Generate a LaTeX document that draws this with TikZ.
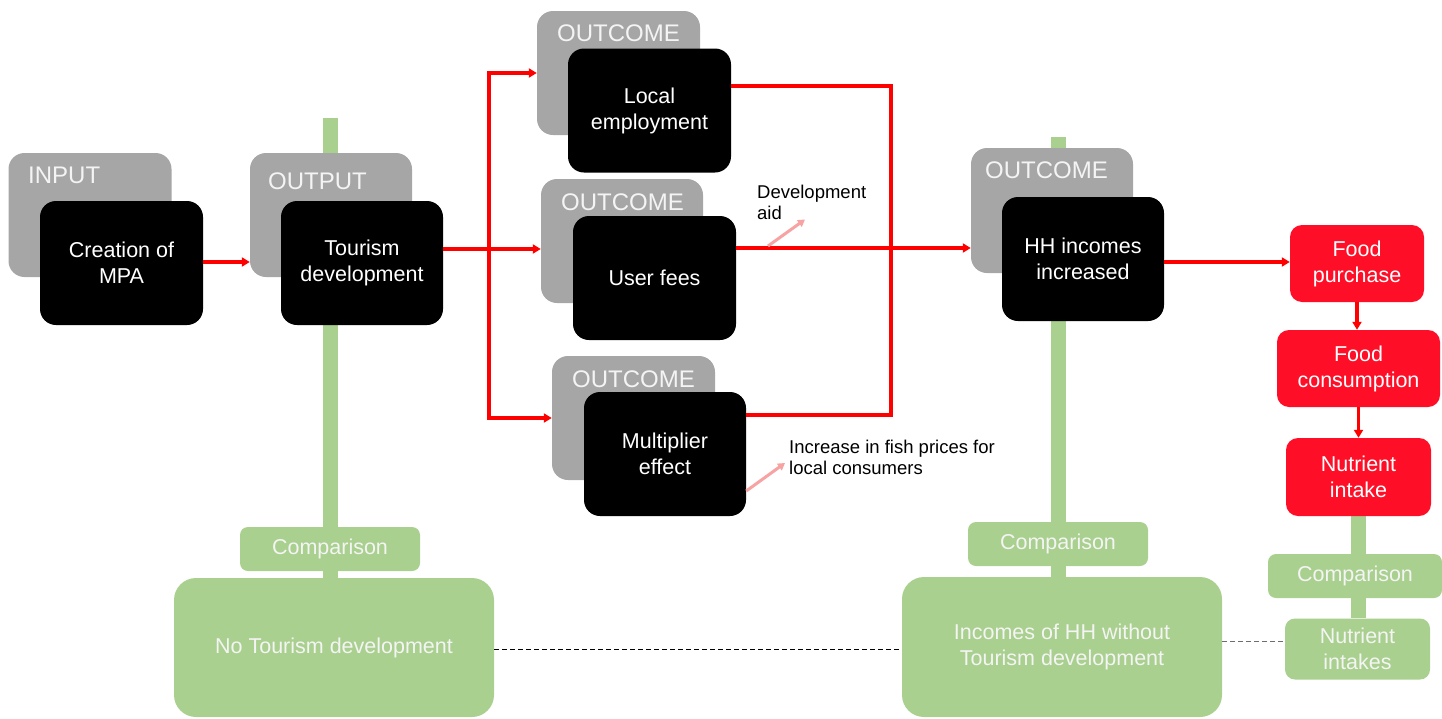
\documentclass[tikz,border=0pt]{standalone}
\usepackage{fontspec}
\setmainfont{Liberation Sans}
\usetikzlibrary{arrows.meta,backgrounds}

\definecolor{boxgray}{HTML}{A6A6A6}
\definecolor{leafgreen}{HTML}{A9D08E}
\definecolor{boxred}{HTML}{FF0F27}
\definecolor{softred}{HTML}{F7A3A3}
\definecolor{paleword}{HTML}{F4F4F4}
\definecolor{dashgray}{HTML}{6E6E6E}

\tikzset{
  graybox/.style={fill=boxgray, rounded corners=16pt, minimum width=163pt, minimum height=124pt, inner sep=0pt},
  graylabel/.style={text=paleword, anchor=west, inner sep=0pt, font=\fontsize{24}{28}\selectfont},
  blackbox/.style={fill=black, text=white, rounded corners=16pt, minimum width=163pt, minimum height=124pt, inner sep=0pt, align=center, font=\fontsize{21.5}{26}\selectfont},
  redbox/.style={fill=boxred, text=white, rounded corners=12pt, minimum height=77pt, inner sep=0pt, align=center, font=\fontsize{21.5}{26}\selectfont},
  greenbox/.style={fill=leafgreen, text=paleword, rounded corners=22pt, minimum width=320pt, minimum height=139pt, inner sep=0pt, align=center, font=\fontsize{21.5}{26}\selectfont},
  cmpbox/.style={fill=leafgreen, text=paleword, rounded corners=8pt, minimum width=180pt, minimum height=44pt, inner sep=0pt, font=\fontsize{21.5}{26}\selectfont},
  redline/.style={draw=red, line width=3.5pt},
  greenbar/.style={draw=leafgreen, line width=15pt},
  pinkarrow/.style={draw=softred, line width=3pt, -{Triangle[length=7pt,width=8pt]}},
  note/.style={anchor=west, inner sep=0pt, align=left, font=\fontsize{18.5}{21}\selectfont},
  linkdash/.style={line width=1pt, dash pattern=on 5pt off 3pt}
}

\begin{document}
\begin{tikzpicture}[x=1pt,y=-1pt,>={Triangle[length=8pt,width=9pt]}]

  \useasboundingbox (0,0) rectangle (1442,718);

  % Input and output
  \node[graybox] (ing) at (90,215) {};
  \node[graylabel] at (28,175) {INPUT};
  \node[blackbox] (mpa) at (121.5,263) {Creation of\\MPA};

  \node[graybox, minimum width=162pt] (outg) at (331,215) {};
  \node[graylabel] at (268,181) {OUTPUT};
  \node[blackbox, minimum width=162pt] (tour) at (362,263) {Tourism\\development};

  % Three outcomes
  \node[graybox] (oc1g) at (618.5,73) {};
  \node[graylabel] at (557,33) {OUTCOME};
  \node[blackbox] (emp) at (649.5,110.5) {Local\\employment};

  \node[graybox, minimum width=162pt] (oc2g) at (622,241) {};
  \node[graylabel] at (561,202) {OUTCOME};
  \node[blackbox] (fees) at (654.5,278) {User fees};

  \node[graybox] (oc3g) at (633.5,418) {};
  \node[graylabel] at (572,379) {OUTCOME};
  \node[blackbox, minimum width=162pt] (mult) at (665,454) {Multiplier\\effect};

  % Household outcome
  \node[graybox, minimum width=162pt, minimum height=125pt] (oc4g) at (1052,210.5) {};
  \node[graylabel] at (985,170) {OUTCOME};
  \node[blackbox, minimum width=162pt] (hh) at (1083,259) {HH incomes\\increased};

  % Nutrition chain
  \node[redbox, minimum width=134pt] (purch) at (1357,263.5) {Food\\purchase};
  \node[redbox, minimum width=163pt] (cons) at (1358.5,368.5) {Food\\consumption};
  \node[redbox, minimum width=145pt, minimum height=78pt] (nutr) at (1358.5,477) {Nutrient\\intake};

  % Counterfactuals
  \node[cmpbox] (cmp1) at (330,549) {Comparison};
  \node[greenbox] (notour) at (334,647.5) {No Tourism development};
  \node[cmpbox] (cmp2) at (1058,544) {Comparison};
  \node[greenbox, minimum height=140pt] (inchh) at (1062,647) {Incomes of HH without\\Tourism development};
  \node[cmpbox, minimum width=174pt] (cmp3) at (1355,576) {Comparison};
  \node[cmpbox, minimum width=145pt, minimum height=61pt, rounded corners=10pt, align=center] (nutrs) at (1357.5,649) {Nutrient\\intakes};

  % Notes
  \node[note] (devaid) at (757,202) {Development\\aid};
  \node[note] (fish) at (789,457) {Increase in fish prices for\\local consumers};

  % Green comparison bars behind
  \coordinate (bar1) at (330,118);
  \coordinate (bar2) at (1058,137);
  \begin{scope}[on background layer]
    \draw[greenbar] (bar1) -- (cmp1.north);
    \draw[greenbar] (cmp1.south) -- (cmp1.south |- notour.north);
    \draw[greenbar] (bar2) -- (cmp2.north);
    \draw[greenbar] (cmp2.south) -- (cmp2.south |- inchh.north);
    \draw[greenbar] (nutr.south) -- (nutr.south |- cmp3.north);
    \draw[greenbar] (nutr.south |- cmp3.south) -- (nutr.south |- nutrs.north);
  \end{scope}

  % Red causal links
  \draw[redline,->] (mpa.east |- 0,262) -- (outg.west |- 0,262);
  \coordinate (split) at (489,249);
  \draw[redline,->] (tour.east |- split) -- (oc2g.west |- split);
  \draw[redline,->] (split) |- (oc1g.west);
  \draw[redline,->] (split) |- (oc3g.west);

  \coordinate (xcol) at (891,250);
  \draw[redline] (emp.east |- 0,86) -| (xcol) |- (mult.east |- 0,415);
  \draw[redline,->] (fees.east |- 0,248) -- (oc4g.west |- 0,248);

  \draw[redline,->] (hh.east |- 0,262) -- (purch.west |- 0,262);
  \draw[redline,->] (purch.south) -- (purch.south |- cons.north);
  \draw[redline,->] (nutr.north |- cons.south) -- (nutr.north);

  % Side effects
  \draw[pinkarrow] (768,246) -- ([xshift=48pt]devaid.south west);
  \draw[pinkarrow] ([yshift=-37pt]mult.east) -- ([xshift=-4pt,yshift=-6pt]fish.west);

  % Dashed counterfactual links
  \draw[linkdash] (notour.east |- 0,649) -- (inchh.west |- 0,649);
  \draw[linkdash, dashgray] (inchh.east |- 0,641) -- (nutrs.west |- 0,641);

\end{tikzpicture}
\end{document}
